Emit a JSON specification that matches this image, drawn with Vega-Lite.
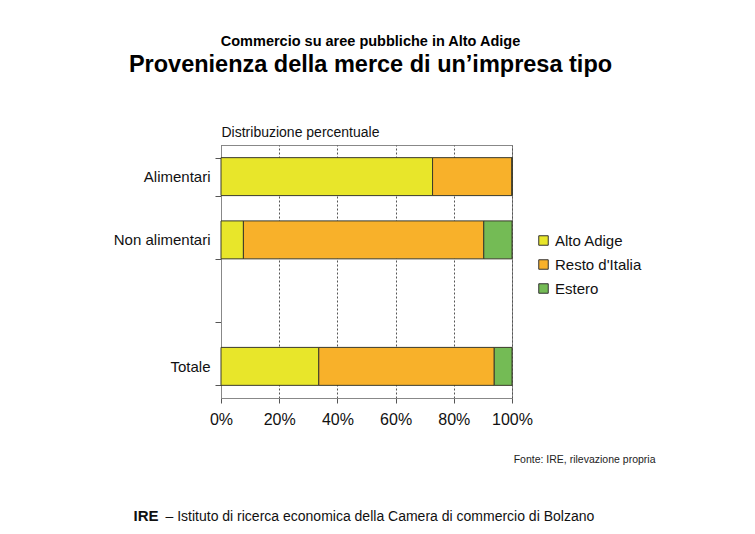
{
  "$schema": "https://vega.github.io/schema/vega-lite/v6.json",
  "autosize": "none",
  "width": 291,
  "height": 253,
  "padding": {"left": 221, "top": 145, "right": 243, "bottom": 136},
  "background": "white",
  "title": {
    "text": "Commercio su aree pubbliche in Alto Adige",
    "subtitle": "Provenienza della merce di un’impresa tipo",
    "anchor": "middle",
    "frame": "group",
    "dx": 4,
    "offset": 48,
    "font": "Liberation Sans",
    "fontSize": 14.5,
    "fontWeight": "bold",
    "color": "#000000",
    "subtitleFont": "Liberation Sans",
    "subtitleFontSize": 23.5,
    "subtitleFontWeight": "bold",
    "subtitleColor": "#000000",
    "subtitlePadding": 3
  },
  "data": {
    "values": [
      {"cat": "Alimentari", "prov": "Alto Adige", "ord": 1, "pct": 72.7},
      {"cat": "Alimentari", "prov": "Resto d'Italia", "ord": 2, "pct": 27.3},
      {"cat": "Alimentari", "prov": "Estero", "ord": 3, "pct": 0},
      {"cat": "Non alimentari", "prov": "Alto Adige", "ord": 1, "pct": 7.7},
      {"cat": "Non alimentari", "prov": "Resto d'Italia", "ord": 2, "pct": 82.6},
      {"cat": "Non alimentari", "prov": "Estero", "ord": 3, "pct": 9.7},
      {"cat": "Totale", "prov": "Alto Adige", "ord": 1, "pct": 33.6},
      {"cat": "Totale", "prov": "Resto d'Italia", "ord": 2, "pct": 60.3},
      {"cat": "Totale", "prov": "Estero", "ord": 3, "pct": 6.1}
    ]
  },
  "resolve": {"axis": {"x": "independent", "y": "independent"}},
  "layer": [
    {
      "mark": {"type": "bar", "stroke": "#3a3a2a", "strokeWidth": 1},
      "encoding": {
        "y": {
          "field": "cat",
          "type": "nominal",
          "scale": {"domain": ["Alimentari", "Non alimentari", " ", "Totale"], "paddingInner": 0.4, "paddingOuter": 0.2},
          "axis": {
            "orient": "left",
            "title": "Distribuzione percentuale",
            "titleAngle": 0,
            "titleAlign": "left",
            "titleBaseline": "alphabetic",
            "titleX": 0,
            "titleY": -9,
            "titleFont": "Liberation Sans",
            "titleFontSize": 14,
            "titleFontWeight": "normal",
            "titleColor": "#111111",
            "labelFont": "Liberation Sans",
            "labelFontSize": 15,
            "labelColor": "#111111",
            "labelPadding": 5,
            "tickBand": "extent",
            "tickSize": 6,
            "tickColor": "#555555",
            "domainColor": "#888888",
            "grid": false
          }
        },
        "x": {
          "field": "pct",
          "type": "quantitative",
          "stack": "zero",
          "scale": {"domain": [0, 100], "nice": false},
          "axis": {
            "orient": "bottom",
            "values": [0, 20, 40, 60, 80, 100],
            "labelExpr": "datum.value + '%'",
            "labelFlush": false,
            "labelFont": "Liberation Sans",
            "labelFontSize": 16,
            "labelColor": "#111111",
            "labelPadding": 8,
            "tickSize": 5,
            "tickColor": "#555555",
            "domainColor": "#888888",
            "grid": true,
            "gridColor": "#555555",
            "gridDash": [2, 2],
            "gridWidth": 1,
            "title": "Fonte: IRE, rilevazione propria",
            "titleFont": "Liberation Sans",
            "titleFontSize": 10.5,
            "titleFontWeight": "normal",
            "titleColor": "#222222",
            "titleAnchor": null,
            "titleAlign": "right",
            "titleBaseline": "alphabetic",
            "titleX": 434,
            "titleY": 64
          }
        },
        "color": {
          "field": "prov",
          "type": "nominal",
          "scale": {"domain": ["Alto Adige", "Resto d'Italia", "Estero"], "range": ["#E8E62A", "#F8B12A", "#74BB55"]},
          "legend": {
            "title": null,
            "orient": "none",
            "legendX": 315,
            "legendY": 88,
            "symbolType": "square",
            "symbolSize": 90,
            "symbolStrokeColor": "#333333",
            "symbolStrokeWidth": 1,
            "labelFont": "Liberation Sans",
            "labelFontSize": 15,
            "labelColor": "#111111",
            "labelOffset": 4,
            "rowPadding": 8
          }
        },
        "order": {"field": "ord", "type": "quantitative"}
      }
    },
    {
      "mark": {"type": "bar", "opacity": 0},
      "encoding": {
        "y": {
          "field": "cat",
          "type": "nominal",
          "axis": {
            "orient": "right",
            "domain": false,
            "ticks": false,
            "labels": false,
            "grid": false,
            "title": "IRE",
            "titleAngle": 0,
            "titleAlign": "left",
            "titleBaseline": "alphabetic",
            "titleX": -379,
            "titleY": 375,
            "titleFont": "Liberation Sans",
            "titleFontSize": 15,
            "titleFontWeight": "bold",
            "titleColor": "#111111"
          }
        },
        "x": {
          "field": "pct",
          "type": "quantitative",
          "stack": "zero",
          "axis": {
            "orient": "top",
            "domain": false,
            "ticks": false,
            "labels": false,
            "grid": false,
            "title": "– Istituto di ricerca economica della Camera di commercio di Bolzano",
            "titleAnchor": null,
            "titleAlign": "left",
            "titleBaseline": "alphabetic",
            "titleX": -56,
            "titleY": 375,
            "titleFont": "Liberation Sans",
            "titleFontSize": 14,
            "titleFontWeight": "normal",
            "titleColor": "#111111"
          }
        },
        "order": {"field": "ord", "type": "quantitative"}
      }
    }
  ],
  "config": {
    "view": {"stroke": "#888888", "strokeWidth": 1}
  }
}
